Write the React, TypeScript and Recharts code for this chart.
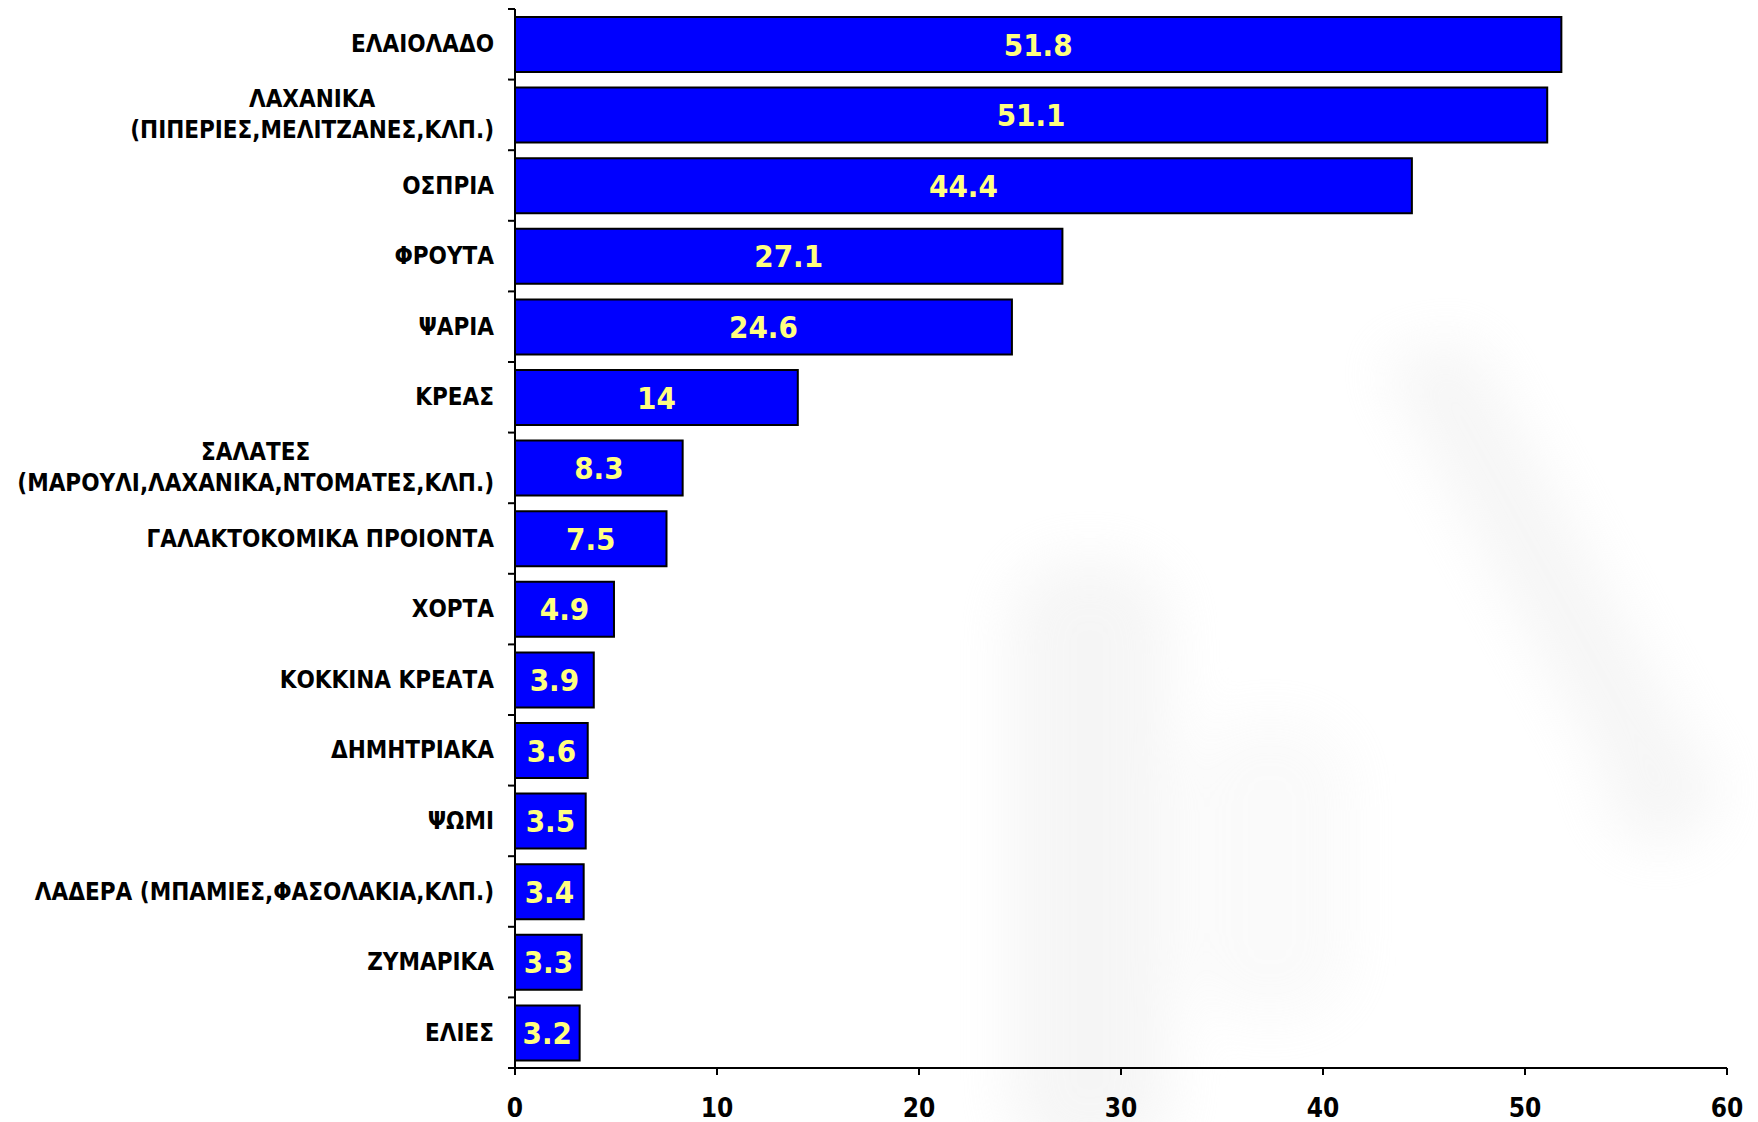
import React from 'react';
import { BarChart, Bar, XAxis, YAxis, LabelList } from 'recharts';

const categories = [
  'ΕΛΑΙΟΛΑΔΟ',
  'ΛΑΧΑΝΙΚΑ\n(ΠΙΠΕΡΙΕΣ,ΜΕΛΙΤΖΑΝΕΣ,ΚΛΠ.)',
  'ΟΣΠΡΙΑ',
  'ΦΡΟΥΤΑ',
  'ΨΑΡΙΑ',
  'ΚΡΕΑΣ',
  'ΣΑΛΑΤΕΣ\n(ΜΑΡΟΥΛΙ,ΛΑΧΑΝΙΚΑ,ΝΤΟΜΑΤΕΣ,ΚΛΠ.)',
  'ΓΑΛΑΚΤΟΚΟΜΙΚΑ ΠΡΟΙΟΝΤΑ',
  'ΧΟΡΤΑ',
  'ΚΟΚΚΙΝΑ ΚΡΕΑΤΑ',
  'ΔΗΜΗΤΡΙΑΚΑ',
  'ΨΩΜΙ',
  'ΛΑΔΕΡΑ (ΜΠΑΜΙΕΣ,ΦΑΣΟΛΑΚΙΑ,ΚΛΠ.)',
  'ΖΥΜΑΡΙΚΑ',
  'ΕΛΙΕΣ',
];
const values = [51.8, 51.1, 44.4, 27.1, 24.6, 14, 8.3, 7.5, 4.9, 3.9, 3.6, 3.5, 3.4, 3.3, 3.2];
const xTicks = [0, 10, 20, 30, 40, 50, 60];

const data = categories.map((name, i) => ({ name, value: values[i] }));

const W = 1758;
const H = 1122;
const X_AXIS_H = 54;
const M = { top: 9, right: 31, bottom: 0, left: 0 };
const Y_AXIS_W = 515;
const AXIS_Y = H - X_AXIS_H;
const BAND = (AXIS_Y - M.top) / categories.length;
const FONT = "'DejaVu Sans Condensed', 'DejaVu Sans', sans-serif";
const TICK_FS = 24;
const X_TICK_FS = 26;
const LINE_H = 31;

let ctx: CanvasRenderingContext2D | null = null;
function measure(t: string): number {
  if (!ctx) {
    const c = document.createElement('canvas');
    ctx = c.getContext('2d');
  }
  if (!ctx) return t.length * TICK_FS * 0.65;
  ctx.font = `bold ${TICK_FS}px ${FONT}`;
  return ctx.measureText(t).width;
}

function YTick(props: any) {
  const { y, payload, index } = props;
  const lines = String(payload.value).split('\n');
  const right = Y_AXIS_W - 21;
  const maxW = Math.max(...lines.map(measure));
  const cx = right - maxW / 2;
  const y0 = y - ((lines.length - 1) * LINE_H) / 2;
  return (
    <g>
      <line x1={Y_AXIS_W - 7} x2={Y_AXIS_W} y1={y - BAND / 2} y2={y - BAND / 2} stroke="#000" strokeWidth={2} />
      {index === categories.length - 1 && (
        <line x1={Y_AXIS_W - 7} x2={Y_AXIS_W} y1={y + BAND / 2} y2={y + BAND / 2} stroke="#000" strokeWidth={2} />
      )}
      {lines.map((l, i) => (
        <text
          key={i}
          x={cx}
          y={y0 + i * LINE_H}
          textAnchor="middle"
          dominantBaseline="central"
          fontFamily={FONT}
          fontWeight="bold"
          fontSize={TICK_FS}
          fill="#000"
        >
          {l}
        </text>
      ))}
    </g>
  );
}

function XTick(props: any) {
  const { x, payload } = props;
  return (
    <g>
      <line x1={x} x2={x} y1={AXIS_Y} y2={AXIS_Y + 7} stroke="#000" strokeWidth={2} />
      <text
        x={x}
        y={AXIS_Y + 40}
        textAnchor="middle"
        dominantBaseline="central"
        fontFamily={FONT}
        fontWeight="bold"
        fontSize={X_TICK_FS}
        fill="#000"
      >
        {payload.value}
      </text>
    </g>
  );
}

function Watermark() {
  return (
    <svg width={W} height={H} style={{ position: 'absolute', left: 0, top: 0 }}>
      <defs>
        <filter id="blur" x="-50%" y="-50%" width="200%" height="200%">
          <feGaussianBlur stdDeviation="28" />
        </filter>
      </defs>
      <g filter="url(#blur)" fill="#e8e8e8" opacity={0.4}>
        <rect x={1010} y={560} width={160} height={600} rx={60} />
        <path d="M1380 360 L1470 340 L1700 760 L1620 800 Z" />
        <ellipse cx={1660} cy={790} rx={55} ry={55} />
        <rect x={1190} y={720} width={160} height={300} rx={60} opacity={0.5} />
      </g>
    </svg>
  );
}

export default function App() {
  return (
    <div style={{ position: 'absolute', left: 0, top: 0, width: W, height: H, background: '#fff' }}>
      <Watermark />
      <div style={{ position: 'absolute', left: 0, top: 0 }}>
        <BarChart width={W} height={H} data={data} layout="vertical" margin={M}>
          <XAxis
            type="number"
            domain={[0, 60]}
            ticks={xTicks}
            interval={0}
            axisLine={{ stroke: '#000', strokeWidth: 2 }}
            tickLine={false}
            tick={<XTick />}
            height={X_AXIS_H}
            allowDataOverflow
          />
          <YAxis
            type="category"
            dataKey="name"
            width={Y_AXIS_W}
            axisLine={{ stroke: '#000', strokeWidth: 2 }}
            tickLine={false}
            tick={<YTick />}
            interval={0}
          />
          <Bar dataKey="value" fill="#0000FF" stroke="#000" strokeWidth={2} barSize={55} isAnimationActive={false}>
            <LabelList
              dataKey="value"
              position="center"
              fill="#FFFF80"
              fontFamily={FONT}
              fontWeight="bold"
              fontSize={31}
            />
          </Bar>
        </BarChart>
      </div>
    </div>
  );
}
